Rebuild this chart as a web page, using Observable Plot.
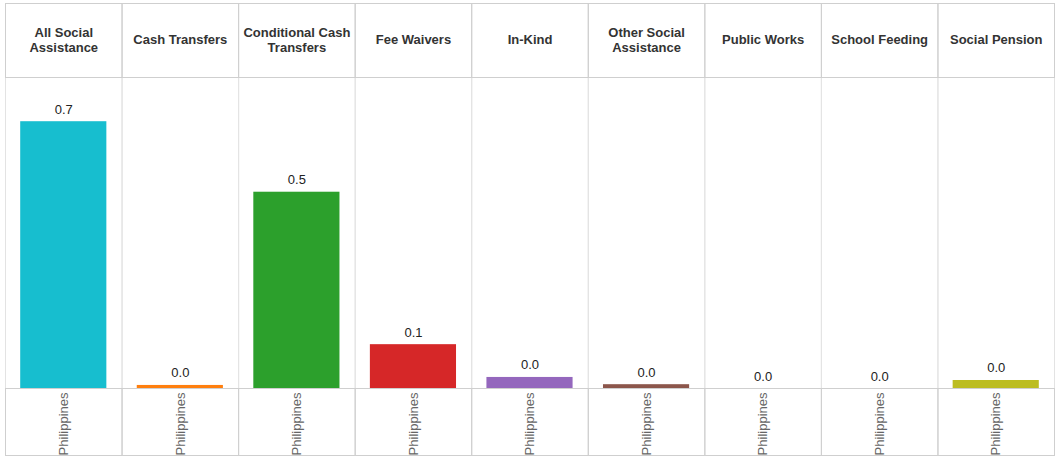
<!DOCTYPE html>
<html>
<head>
<meta charset="utf-8">
<script src="https://cdn.jsdelivr.net/npm/d3@7"></script>
<script src="https://cdn.jsdelivr.net/npm/@observablehq/plot@0.6"></script>
<style>
  body { margin: 0; background: #fff; font-family: "Liberation Sans", Arial, sans-serif; }
</style>
</head>
<body>
<div id="chart"></div>
<script>
const categories = ["All Social Assistance", "Cash Transfers", "Conditional Cash Transfers", "Fee Waivers", "In-Kind", "Other Social Assistance", "Public Works", "School Feeding", "Social Pension"];
const headerLabels = ["All Social\nAssistance", "Cash Transfers", "Conditional Cash\nTransfers", "Fee Waivers", "In-Kind", "Other Social\nAssistance", "Public Works", "School Feeding", "Social Pension"];
const countries = ["Philippines"];
const values = [0.70, 0.008, 0.515, 0.115, 0.029, 0.010, 0, 0, 0.021];
const colors = ["#17becf", "#ff7f0e", "#2ca02c", "#d62728", "#9467bd", "#8c564b", "#e377c2", "#7f7f7f", "#bcbd22"];

const data = categories.map((c, i) => ({category: c, country: countries[0], value: values[i], color: colors[i]}));
const headers = categories.map((c, i) => ({category: c, label: headerLabels[i]}));
const fmt = d3.format(".1f");

const chart = Plot.plot({
  width: 1055,
  height: 456,
  marginTop: 77,
  marginBottom: 68,
  marginLeft: 5,
  marginRight: 1,
  style: {fontFamily: "'Liberation Sans', Arial, sans-serif", background: "#fff"},
  fx: {domain: categories, padding: 0, round: false, axis: null},
  x: {domain: countries, padding: 0.15, round: false},
  y: {domain: [0, 0.816], axis: null},
  marks: [
    // plot area cell
    Plot.frame({stroke: "#e3e3e3"}),
    // header cell
    Plot.frame({stroke: "#cfcfcf", insetTop: -74, insetBottom: 311}),
    // bottom cell
    Plot.frame({stroke: "#cfcfcf", insetTop: 311, insetBottom: -67}),
    Plot.barY(data, {fx: "category", x: "country", y: "value", fill: "color"}),
    Plot.text(data, {fx: "category", x: "country", y: "value", text: d => fmt(d.value), dy: -8, lineAnchor: "bottom", fontSize: 13, fill: "#222"}),
    Plot.text(headers, {fx: "category", text: "label", frameAnchor: "top", dy: -38, lineAnchor: "middle", fontSize: 13, fontWeight: "bold", fill: "#333", lineHeight: 1.15}),
    Plot.axisX({anchor: "bottom", tickSize: 0, tickPadding: 4, tickRotate: -90, fontSize: 13, color: "#666", label: null})
  ]
});
document.getElementById("chart").appendChild(chart);
</script>
</body>
</html>
